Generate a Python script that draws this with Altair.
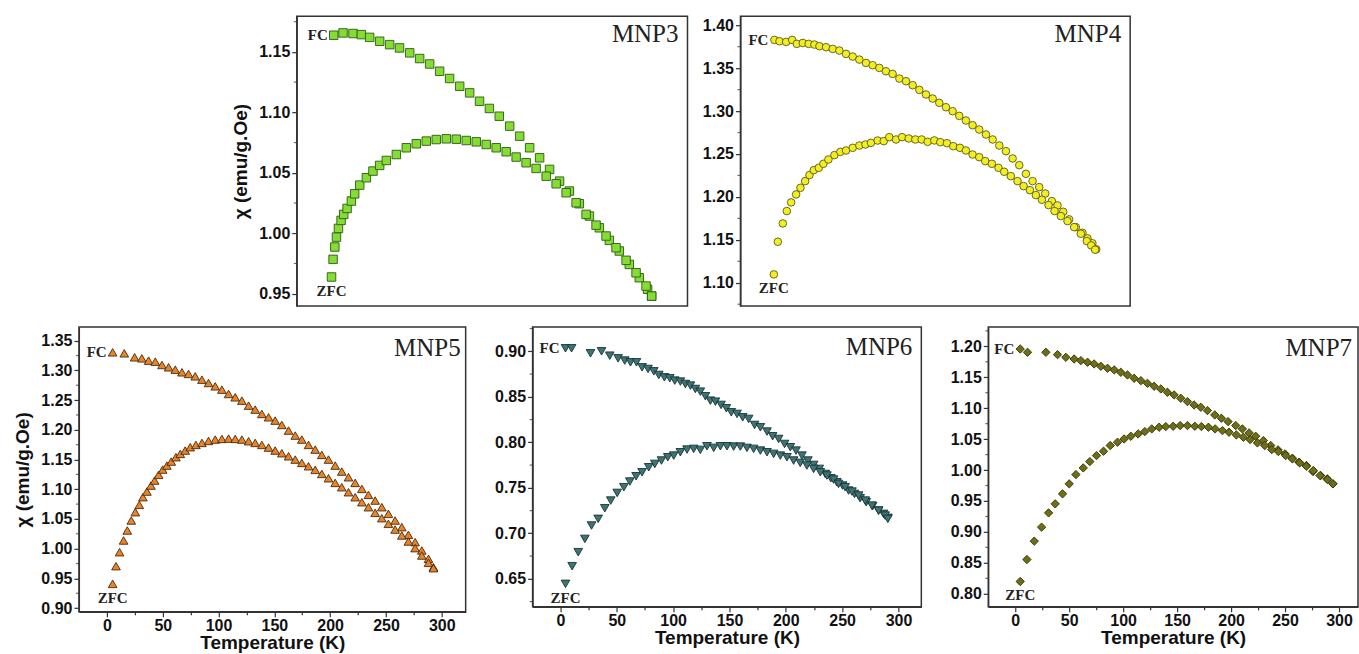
import altair as alt
import pandas as pd

# ---------------- data ----------------
MNP3_T_FC = [5, 13.5, 22.6, 30.2, 37.8, 46.9, 56, 65, 74.3, 83.4, 92.5, 101.6, 110.7, 119.9, 129, 138, 147, 156,
             165.5, 174.6, 183.7, 192.8, 201.9, 211, 220, 229, 238.2, 247.3, 256.4, 265.5, 274.6, 283.7, 291.3, 295]
MNP3_C_FC = [1.1638, 1.1657, 1.1652, 1.1643, 1.162, 1.1588, 1.156, 1.1533, 1.1492, 1.1445, 1.140, 1.134, 1.128,
             1.1216, 1.1161, 1.1092, 1.1032, 1.0968, 1.0886, 1.0803, 1.0707, 1.0624, 1.0528, 1.0431, 1.0349, 1.0244,
             1.0142, 1.0045, 0.9941, 0.9853, 0.9742, 0.9632, 0.9536, 0.948]
MNP3_T_ZFC = [3, 4.4, 6, 7.5, 9.3, 11.7, 14.1, 17.2, 21.1, 24.1, 28.7, 34.8, 40.8, 46.9, 53, 62.1, 71.2, 80.3, 89.4,
              98.5, 107.7, 116.8, 125.9, 135, 144.1, 153.2, 162.3, 171.4, 180.5, 189.6, 198.8, 207.9, 217, 226.1,
              235.2, 244.3, 253.4, 262.5, 271.7, 280.8, 289.9, 295]
MNP3_C_ZFC = [0.9638, 0.9784, 0.9886, 0.9968, 1.004, 1.0106, 1.0156, 1.0205, 1.0266, 1.0326, 1.0398, 1.0459, 1.0514,
              1.0561, 1.0602, 1.0651, 1.0707, 1.074, 1.0762, 1.0775, 1.0781, 1.0778, 1.0767, 1.0756, 1.0734, 1.0707,
              1.0674, 1.063, 1.0583, 1.0536, 1.0472, 1.0409, 1.0335, 1.0252, 1.0156, 1.0067, 0.9977, 0.988, 0.9776,
              0.9673, 0.9563, 0.948]

MNP4_T_FC = [5.8, 10.4, 16.4, 21.8, 26, 31.4, 36.7, 41.9, 46.4, 52.4, 58.4, 64.4, 70.4, 76.4, 82.4, 88.4, 94.4,
             100.4, 106.4, 112.4, 118.5, 124.5, 130.5, 136.5, 142.5, 148.5, 154.5, 160.5, 166.5, 172.5, 178.5, 184.5,
             190.5, 196.6, 202.6, 208.6, 214.6, 220.6, 226.6, 232.6, 238.6, 244.6, 250, 256, 261.1, 266.2, 271.6,
             277.6, 283.6, 288.1, 292.5, 296]
MNP4_C_FC = [1.3829, 1.3814, 1.3806, 1.3829, 1.3783, 1.3794, 1.3783, 1.3775, 1.3756, 1.3744, 1.3724, 1.3705, 1.3666,
             1.3635, 1.36, 1.3561, 1.3534, 1.3503, 1.3464, 1.3433, 1.3379, 1.3348, 1.3301, 1.3247, 1.3193, 1.3146,
             1.3096, 1.3045, 1.2999, 1.2944, 1.289, 1.2836, 1.2785, 1.2727, 1.2669, 1.2599, 1.2533, 1.2448, 1.237,
             1.2269, 1.2184, 1.2114, 1.204, 1.1951, 1.1901, 1.1827, 1.1738, 1.1648, 1.1582, 1.1517, 1.146, 1.139]
MNP4_T_ZFC = [5.3, 8.9, 13.4, 17, 20.9, 25.4, 29.3, 33.5, 37.4, 41.3, 45.8, 50, 54.5, 59.9, 65.3, 70.4, 76.4, 82.4,
              87.9, 92.9, 98.9, 104.4, 109.4, 115.5, 120.9, 126.9, 132.9, 138.6, 144, 150, 155.4, 161.4, 167.1, 173.1,
              178.5, 184.5, 190.5, 195.9, 201.9, 207.9, 213, 219, 225, 230.5, 236.2, 241.6, 247, 253, 258.4, 264.1,
              270.1, 276.1, 282.1, 287.5, 291.5, 295]
MNP4_C_ZFC = [1.1097, 1.1478, 1.1691, 1.1835, 1.1936, 1.2029, 1.2106, 1.2184, 1.2254, 1.2312, 1.2339, 1.2386,
              1.2436, 1.2487, 1.2525, 1.2541, 1.2572, 1.2599, 1.2611, 1.263, 1.2657, 1.265, 1.2696, 1.2669, 1.2696,
              1.2681, 1.2669, 1.2669, 1.2642, 1.2658, 1.2638, 1.2626, 1.2591, 1.2572, 1.2541, 1.2494, 1.2463, 1.2417,
              1.2386, 1.2339, 1.2293, 1.2242, 1.2184, 1.2126, 1.2079, 1.2021, 1.1967, 1.1905, 1.1835, 1.1777, 1.1718,
              1.1648, 1.1571, 1.1486, 1.1435, 1.1385]

MNP5_T_FC = [5.1, 15.5, 24.8, 31.3, 37.3, 43.3, 49.3, 55.2, 61.2, 67.2, 73.1, 79.1, 85.1, 91, 97, 103, 109, 114.9,
             120.9, 126.9, 132.8, 138.8, 144.8, 150.7, 156.7, 162.7, 168.7, 174.6, 180.6, 186.6, 192.5, 198.5, 204.5,
             210.4, 216.4, 222.4, 228.4, 234.3, 240.3, 246.3, 252.2, 258.2, 264.2, 270.1, 276.1, 282.1, 288.1, 292.5]
MNP5_C_FC = [1.3304, 1.3287, 1.322, 1.3203, 1.3164, 1.3147, 1.3091, 1.3052, 1.3012, 1.2968, 1.294, 1.290, 1.2844,
             1.2788, 1.2732, 1.2676, 1.2603, 1.2547, 1.2491, 1.2407, 1.234, 1.2267, 1.2211, 1.2155, 1.2082, 1.1987,
             1.1903, 1.1836, 1.1746, 1.1667, 1.1578, 1.1499, 1.1398, 1.1298, 1.1202, 1.1107, 1.1006, 1.0905, 1.081,
             1.0698, 1.0586, 1.0474, 1.0362, 1.0233, 1.011, 0.997, 0.9829, 0.9689]
MNP5_T_ZFC = [5.1, 8.1, 11.3, 14.9, 18.2, 21.8, 25.4, 29, 32.2, 35.8, 39.4, 42.7, 46.3, 49.9, 53.7, 57.6, 61.8, 65.7,
              70.1, 74.6, 79.7, 85.1, 91, 97, 103, 109, 114.9, 120.9, 126.9, 132.8, 138.8, 144.8, 150.7, 156.7, 162.7,
              168.7, 174.6, 180.6, 186.6, 192.5, 198.5, 204.5, 210.4, 216.4, 222.4, 228.4, 234.3, 240.3, 246.3, 252.2,
              258.2, 264.2, 270.1, 276.1, 282.1, 288.1, 292.5]
MNP5_C_ZFC = [0.9408, 0.9706, 0.9941, 1.0138, 1.0306, 1.0474, 1.0614, 1.0737, 1.0866, 1.0961, 1.1062, 1.1146,
              1.1242, 1.1331, 1.1398, 1.1466, 1.1539, 1.1595, 1.1651, 1.1707, 1.1746, 1.178, 1.1813, 1.1836, 1.1847,
              1.1852, 1.1847, 1.1836, 1.1808, 1.178, 1.1746, 1.1701, 1.1651, 1.1606, 1.1555, 1.1499, 1.1443, 1.1387,
              1.1326, 1.1258, 1.1185, 1.1107, 1.1034, 1.095, 1.0866, 1.0782, 1.0698, 1.0603, 1.0513, 1.0418, 1.0322,
              1.0222, 1.0121, 1.0009, 0.9885, 0.9762, 0.9672]

MNP6_T_FC = [4.4, 9.8, 26.6, 36.4, 43.7, 51.1, 57, 62.1, 67.4, 72.4, 77.7, 82.8, 87.2, 92.2, 97, 101.4, 106.4, 110.8,
             115.3, 119.7, 124.1, 128.6, 133, 137.5, 142.5, 147.2, 151.6, 156.7, 161.7, 167, 172.3, 177.4, 183.3,
             188.3, 193.6, 198.9, 204, 209, 214.3, 219.6, 224.7, 229.7, 235, 240, 245.3, 250.4, 255.7, 261, 266,
             271.4, 277, 282.3, 286.7, 290.6]
MNP6_C_FC = [0.9033, 0.9033, 0.8978, 0.900, 0.8952, 0.8923, 0.8898, 0.8879, 0.8879, 0.8824, 0.8806, 0.878, 0.874,
             0.8714, 0.8704, 0.8678, 0.8667, 0.8641, 0.8623, 0.8586, 0.8557, 0.8506, 0.8458, 0.8447, 0.8411, 0.8374,
             0.833, 0.8312, 0.8275, 0.8257, 0.8191, 0.8165, 0.8118, 0.8067, 0.8037, 0.7982, 0.7946, 0.7909, 0.7854,
             0.78, 0.7752, 0.7708, 0.7653, 0.7605, 0.7562, 0.7525, 0.747, 0.7433, 0.7386, 0.7342, 0.7298, 0.725,
             0.7214, 0.717]
MNP6_T_ZFC = [4.4, 10.3, 15.7, 21.6, 27.5, 33.4, 39.3, 44.6, 50.3, 56.2, 61.5, 67.1, 72.4, 78.3, 83.7, 89.6, 95.2,
              100.5, 106.4, 112.3, 118.2, 124.1, 130, 136, 141.9, 147.8, 153.7, 159.6, 165.5, 171.4, 177.4, 183.3,
              189.2, 195.1, 201, 206.9, 212.8, 218.7, 224.7, 230.6, 236.5, 242.4, 246.8, 252.7, 258.7, 264.6, 270.5,
              276.4, 282.3, 288.2, 290.6]
MNP6_C_ZFC = [0.6445, 0.6639, 0.6793, 0.6939, 0.7086, 0.7159, 0.7276, 0.736, 0.7444, 0.7507, 0.7569, 0.7627,
              0.7671, 0.7726, 0.7763, 0.78, 0.7836, 0.7854, 0.7891, 0.792, 0.7928, 0.7917, 0.7957, 0.7939, 0.7957,
              0.7957, 0.7953, 0.7953, 0.7939, 0.7928, 0.7909, 0.7891, 0.7873, 0.7854, 0.7836, 0.78, 0.7774, 0.7745,
              0.7708, 0.7671, 0.7635, 0.7591, 0.7543, 0.7507, 0.7459, 0.7415, 0.736, 0.7305, 0.725, 0.7195, 0.7159]

MNP7_T_FC = [4.6, 11.4, 28.4, 39.2, 46.9, 54.6, 60.8, 67, 73.1, 79.3, 85.5, 91.7, 97.8, 104, 110.2, 116.4, 122.5,
             128.7, 134.9, 141, 147.2, 153.4, 159.6, 165.7, 171.9, 178.1, 184.9, 191, 197.2, 204.3, 210.5, 216.7,
             222.8, 229.9, 236.7, 243.5, 250, 256.8, 263, 269.8, 275.9, 283, 289.2, 294.4]
MNP7_C_FC = [1.1957, 1.1903, 1.1903, 1.1865, 1.1822, 1.1795, 1.1769, 1.1742, 1.1715, 1.1677, 1.1645, 1.1618, 1.158,
             1.1537, 1.1483, 1.1445, 1.1402, 1.1354, 1.1311, 1.1257, 1.1214, 1.116, 1.1106, 1.1052, 1.1015, 1.0961,
             1.0891, 1.0837, 1.0783, 1.0719, 1.0665, 1.06, 1.0546, 1.0476, 1.0396, 1.0326, 1.0261, 1.0191, 1.0127,
             1.0073, 0.9976, 0.9911, 0.9857, 0.9777]
MNP7_T_ZFC = [4.6, 10.8, 17.6, 24.4, 30.9, 37, 43.8, 50, 56.2, 63, 69.1, 75.3, 81.8, 88, 94.8, 100.9, 107.1, 113.9,
              120.1, 126.5, 133.3, 139.5, 146.3, 152.8, 159.6, 166.4, 172.5, 179, 185.2, 192, 198.1, 204.9, 211.4,
              217.6, 224.4, 231.2, 237.7, 243.8, 250.6, 256.8, 263.6, 269.8, 276.2, 282.4, 289.2, 294.4]
MNP7_C_ZFC = [0.8199, 0.8554, 0.8851, 0.9077, 0.9308, 0.9454, 0.9615, 0.9777, 0.9927, 1.0035, 1.0137, 1.0234,
              1.0304, 1.0396, 1.045, 1.0503, 1.0546, 1.0584, 1.0622, 1.0665, 1.0692, 1.0703, 1.0708, 1.0719, 1.0719,
              1.0708, 1.0703, 1.0692, 1.0665, 1.0638, 1.0611, 1.0568, 1.053, 1.0493, 1.0439, 1.0396, 1.0331, 1.0299,
              1.0234, 1.018, 1.0116, 1.0062, 0.9992, 0.9911, 0.9847, 0.9777]

# axis ticks (labelled majors, unlabelled minors)
X_TICKS = [0, 50, 100, 150, 200, 250, 300, 25, 75, 125, 175, 225, 275]
MNP3_YMAJ = [0.95, 1.00, 1.05, 1.10, 1.15]
MNP3_YMIN = [0.975, 1.025, 1.075, 1.125, 1.175]
MNP4_YMAJ = [1.10, 1.15, 1.20, 1.25, 1.30, 1.35, 1.40]
MNP4_YMIN = [1.075, 1.125, 1.175, 1.225, 1.275, 1.325, 1.375]
MNP5_YMAJ = [0.90, 0.95, 1.00, 1.05, 1.10, 1.15, 1.20, 1.25, 1.30, 1.35]
MNP5_YMIN = [0.925, 0.975, 1.025, 1.075, 1.125, 1.175, 1.225, 1.275, 1.325]
MNP6_YMAJ = [0.65, 0.70, 0.75, 0.80, 0.85, 0.90]
MNP6_YMIN = [0.625, 0.675, 0.725, 0.775, 0.825, 0.875, 0.925]
MNP7_YMAJ = [0.80, 0.85, 0.90, 0.95, 1.00, 1.05, 1.10, 1.15, 1.20]
MNP7_YMIN = [0.825, 0.875, 0.925, 0.975, 1.025, 1.075, 1.125, 1.175, 1.225]

YTITLE = "χ (emu/g.Oe)"
XTITLE = "Temperature (K)"

SANS = "Liberation Sans"
SERIF = "Liberation Serif"
AXIS_COLOR = "#333333"

X_MINOR = "datum.value % 50 != 0"


def panel(name, tfc, cfc, tzfc, czfc, xdom, ydom, ymaj, ymin, w, h, shape, fill, stroke, size,
          show_x, ytitle, name_right, name_base):
    df = pd.DataFrame({
        "T": tfc + tzfc,
        "chi": cfc + czfc,
        "curve": ["FC"] * len(tfc) + ["ZFC"] * len(tzfc),
    })
    yaxis_kw = dict(values=ymaj, format=".2f", grid=False, labelOverlap=False, tickSize=5,
                    labelPadding=2, titlePadding=8)
    if ytitle:
        yaxis = alt.Axis(title=YTITLE, **yaxis_kw)
    else:
        yaxis = alt.Axis(title=None, **yaxis_kw)
    if show_x:
        xaxis = alt.Axis(title=XTITLE, values=X_TICKS, grid=False, labelOverlap=False,
                         labelExpr=f"{X_MINOR} ? '' : datum.label",
                         tickSize={"condition": {"test": X_MINOR, "value": 3}, "value": 5},
                         labelPadding=1, titlePadding=0, labelFlush=False)
        x = alt.X("T:Q", scale=alt.Scale(domain=xdom, nice=False, zero=False), axis=xaxis)
    else:
        x = alt.X("T:Q", scale=alt.Scale(domain=xdom, nice=False, zero=False), axis=None)
    y = alt.Y("chi:Q", scale=alt.Scale(domain=ydom, nice=False, zero=False), axis=yaxis)

    base = alt.Chart(df)
    pts = base.mark_point(shape=shape, filled=True, fill=fill, stroke=stroke, strokeWidth=0.9,
                          size=size, opacity=1, clip=True).encode(x=x, y=y)
    minor = alt.Chart(pd.DataFrame({"chi": ymin})).mark_tick(
        orient="horizontal", size=3, thickness=1.2, color=AXIS_COLOR, clip=False).encode(
        y=y, x=alt.value(-1.5))
    fc_lbl = base.transform_filter("datum.curve == 'FC'").transform_window(
        rn="row_number()").transform_filter("datum.rn == 1").mark_text(
        text="FC", align="right", baseline="middle", dx=-6, font=SERIF, fontWeight="bold",
        fontSize=15, color="#222").encode(x=x, y=y)
    zfc_lbl = base.transform_filter("datum.curve == 'ZFC'").transform_window(
        rn="row_number()").transform_filter("datum.rn == 1").mark_text(
        text="ZFC", align="center", baseline="middle", dy=14, font=SERIF, fontWeight="bold",
        fontSize=15, color="#222").encode(x=x, y=y)
    nm = alt.Chart(pd.DataFrame({"n": [name]})).mark_text(
        align="right", baseline="alphabetic", font=SERIF, fontSize=25, color="#222").encode(
        text="n:N", x=alt.value(w - name_right), y=alt.value(name_base))
    return alt.layer(pts, minor, fc_lbl, zfc_lbl, nm).properties(width=w, height=h)


p3 = panel("MNP3", MNP3_T_FC, MNP3_C_FC, MNP3_T_ZFC, MNP3_C_ZFC, [-28.7, 327.7], [0.9398, 1.1795],
           MNP3_YMAJ, MNP3_YMIN, 391, 290, "square", "#84dc34", "#2f5a12", 72, False, True, 9, 26)
p4 = panel("MNP4", MNP4_T_FC, MNP4_C_FC, MNP4_T_ZFC, MNP4_C_ZFC, [-24.8, 326.6], [1.0729, 1.4105],
           MNP4_YMAJ, MNP4_YMIN, 390, 290, "circle", "#f2ee22", "#5a5a1a", 58, False, False, 9, 26)
p5 = panel("MNP5", MNP5_T_FC, MNP5_C_FC, MNP5_T_ZFC, MNP5_C_ZFC, [-25.1, 321.4], [0.8938, 1.373],
           MNP5_YMAJ, MNP5_YMIN, 387, 285, "triangle-up", "#e8842c", "#4a2a0a", 75, True, True, 5, 29)
p6 = panel("MNP6", MNP6_T_FC, MNP6_C_FC, MNP6_T_ZFC, MNP6_C_ZFC, [-24.8, 320.3], [0.6193, 0.9267],
           MNP6_YMAJ, MNP6_YMIN, 389, 280, "triangle-down", "#3e7474", "#1a3434", 75, True, False, 9, 28)
p7 = panel("MNP7", MNP7_T_FC, MNP7_C_FC, MNP7_T_ZFC, MNP7_C_ZFC, [-25.0, 317.6], [0.779, 1.2312],
           MNP7_YMAJ, MNP7_YMIN, 370, 280, "diamond", "#6e6e16", "#333308", 70, True, False, 6, 29)

spacer = alt.Chart(pd.DataFrame({"s": [0]})).mark_point(opacity=0).encode(
    x=alt.X("s:Q", axis=None), y=alt.Y("s:Q", axis=None)).properties(
    width=165, height=290, view=alt.ViewBackground(strokeOpacity=0))

top = alt.hconcat(spacer, p3, p4, spacing=53, bounds="flush")
bottom = alt.hconcat(p5, p6, p7, spacing=67, bounds="flush")

chart = alt.vconcat(top, bottom, spacing=19).properties(
    padding={"left": 13, "top": 15, "right": 0, "bottom": 0}
).configure_view(stroke=AXIS_COLOR, strokeWidth=1.5).configure_axis(
    labelFont=SANS, labelFontWeight="bold", labelFontSize=16, labelColor="#111",
    titleFont=SANS, titleFontWeight="bold", titleFontSize=19, titleColor="#111",
    tickColor=AXIS_COLOR, domainColor=AXIS_COLOR, domainWidth=1.2, tickWidth=1.2, labelOverlap=False
)

chart.save("out.html", embed_options={"renderer": "svg", "actions": False})
